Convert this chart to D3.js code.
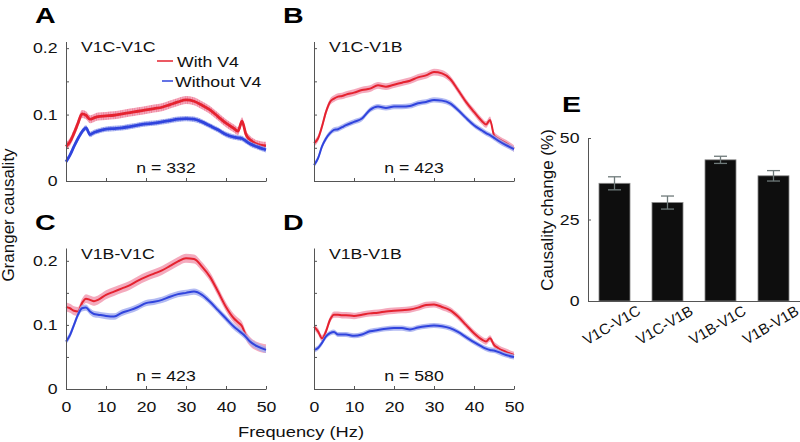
<!DOCTYPE html>
<html><head><meta charset="utf-8">
<script src="https://cdn.jsdelivr.net/npm/d3@7"></script>
<style>body{margin:0;background:#fff}svg{display:block}</style>
</head><body><svg id="c" width="800" height="442"></svg>
<script>
// ---------- data ----------
const freq = [0,1,2,3,4,5,6,7,8,10,12,14,16,18,20,22,24,26,28,30,32,34,36,38,40,42,43,44,45,46,48,50];
const seriesNames = ["With V4", "Without V4"];
const pairLabels = ["V1C-V1C", "V1C-V1B", "V1B-V1C", "V1B-V1B"];
const nLabels = ["n = 332", "n = 423", "n = 423", "n = 580"];
const panelLetters = ["A", "B", "C", "D", "E"];

const withA    = [.052,.059,.072,.087,.101,.099,.093,.095,.097,.098,.099,.101,.103,.105,.107,.109,.111,.115,.119,.122,.120,.114,.107,.097,.087,.079,.075,.090,.070,.062,.055,.053];
const withoutA = [.029,.039,.052,.064,.074,.080,.070,.073,.075,.078,.079,.080,.082,.084,.086,.087,.089,.091,.093,.094,.093,.089,.083,.077,.070,.066,.065,.064,.060,.056,.051,.047];
const withB    = [.057,.064,.082,.104,.119,.124,.127,.128,.130,.133,.137,.139,.144,.142,.145,.148,.151,.156,.159,.164,.162,.154,.137,.119,.104,.090,.085,.092,.069,.064,.057,.049];
const withoutB = [.024,.034,.052,.064,.072,.077,.078,.081,.084,.089,.094,.107,.112,.110,.112,.112,.113,.117,.119,.122,.121,.117,.107,.095,.084,.076,.072,.069,.065,.061,.054,.048];
const withC    = [.128,.126,.122,.121,.134,.141,.139,.137,.139,.147,.152,.157,.162,.169,.175,.180,.185,.192,.199,.204,.203,.191,.175,.152,.128,.110,.104,.098,.083,.074,.066,.063];
const withoutC = [.074,.084,.100,.116,.126,.127,.121,.117,.116,.114,.113,.119,.123,.128,.134,.136,.139,.144,.148,.150,.152,.147,.136,.123,.110,.097,.092,.087,.081,.074,.066,.061];
const withD    = [.097,.090,.079,.090,.108,.116,.116,.115,.115,.114,.116,.118,.119,.121,.122,.123,.124,.127,.131,.132,.128,.123,.113,.100,.087,.077,.074,.079,.069,.064,.058,.053];
const withoutD = [.061,.064,.072,.082,.087,.089,.085,.085,.085,.083,.085,.090,.092,.094,.095,.095,.093,.096,.098,.099,.098,.095,.089,.081,.073,.066,.063,.061,.060,.058,.053,.050];
const semWith    = [0.006, 0.005, 0.007, 0.005];
const semWithout = [0.004, 0.004, 0.005, 0.004];

const changePct = [36.1, 30.2, 43.3, 38.4];
const changeErr = [2.0, 2.0, 1.1, 1.6];

const yTicksGC = [0, 0.05, 0.1, 0.15, 0.2];
const yLabeledGC = [0, 0.1, 0.2];
const xTicksHz = [0, 10, 20, 30, 40, 50];
const yTicksPct = [0, 25, 50];

// ---------- styling / layout ----------
const FONT = "'Liberation Sans', Arial, Helvetica, sans-serif";
const SX = 1.22;
const RED = "#e5222f", RED_BAND = "#f29bb2";
const BLUE = "#3044dd", BLUE_BAND = "#a4aef0";
const AXIS = "#555";

const svg = d3.select("#c").attr("font-family", FONT);

// hatch patterns (panel A error bands drawn as dense vertical bars)
const defs = svg.append("defs");
[["hatchRed", RED_BAND, "#ec6f8c"], ["hatchBlue", BLUE_BAND, "#7d8be8"]].forEach(([id, bg, fg]) => {
  const p = defs.append("pattern").attr("id", id).attr("patternUnits", "userSpaceOnUse")
    .attr("width", 2.4).attr("height", 10);
  p.append("rect").attr("width", 2.4).attr("height", 10).attr("fill", bg);
  p.append("rect").attr("width", 0.9).attr("height", 10).attr("fill", fg);
});

function stext(sel, x, y, str, o = {}) {
  return sel.append("text")
    .attr("transform", `translate(${x},${y}) scale(${o.sx ?? SX},1)`)
    .attr("text-anchor", o.anchor || "start")
    .attr("font-size", o.size || 14.5)
    .attr("font-weight", o.weight || "normal")
    .attr("fill", o.fill || "#111")
    .text(str);
}

const panelData = [
  {w: withA, wo: withoutA}, {w: withB, wo: withoutB},
  {w: withC, wo: withoutC}, {w: withD, wo: withoutD}
];
const layout = [
  {x0: 66,  x1: 266, y0: 181, y1: 41.5, ymax: 0.21, leftLabels: true,  bottomLabels: false, lw: 2.8, hatch: true},
  {x0: 314, x1: 514, y0: 181, y1: 41.5, ymax: 0.21, leftLabels: false, bottomLabels: false, lw: 2,   hatch: false},
  {x0: 66,  x1: 266, y0: 389, y1: 248,  ymax: 0.22, leftLabels: true,  bottomLabels: true,  lw: 2,   hatch: false},
  {x0: 314, x1: 514, y0: 389, y1: 248,  ymax: 0.22, leftLabels: false, bottomLabels: true,  lw: 2,   hatch: false}
];

panelData.forEach((pd, i) => {
  const L = layout[i];
  const x = d3.scaleLinear().domain([0, 50]).range([L.x0, L.x1]);
  const y = d3.scaleLinear().domain([0, L.ymax]).range([L.y0, L.y1]);
  const g = svg.append("g");

  const series = [
    {vals: pd.w,  err: semWith[i],    line: RED,  band: RED_BAND,  hatch: "url(#hatchRed)"},
    {vals: pd.wo, err: semWithout[i], line: BLUE, band: BLUE_BAND, hatch: "url(#hatchBlue)"}
  ];
  series.forEach(s => {
    const pts = freq.map((f, k) => ({f, v: s.vals[k]}));
    const area = d3.area().x(d => x(d.f)).y0(d => y(d.v - s.err)).y1(d => y(d.v + s.err)).curve(d3.curveMonotoneX);
    const line = d3.line().x(d => x(d.f)).y(d => y(d.v)).curve(d3.curveMonotoneX);
    g.append("path").attr("d", area(pts)).attr("fill", L.hatch ? s.hatch : s.band).attr("opacity", 0.85);
    g.append("path").attr("d", line(pts)).attr("fill", "none").attr("stroke", s.line).attr("stroke-width", L.lw);
  });

  const ya = d3.axisLeft(y).tickValues(yTicksGC).tickSize(-3).tickSizeOuter(0).tickPadding(7)
    .tickFormat(d => (L.leftLabels && yLabeledGC.includes(d)) ? (d === 0 ? "0" : d3.format(".1f")(d)) : "");
  const yg = g.append("g").attr("transform", `translate(${L.x0},0)`).call(ya);
  const xa = d3.axisBottom(x).tickValues(xTicksHz).tickSize(-3).tickSizeOuter(0).tickPadding(13)
    .tickFormat(d => L.bottomLabels ? String(d) : "");
  const xg = g.append("g").attr("transform", `translate(0,${L.y0})`).call(xa);
  [yg, xg].forEach(a => {
    a.select(".domain").attr("stroke", AXIS);
    a.selectAll(".tick line").attr("stroke", AXIS);
    a.selectAll(".tick text").attr("font-size", 14.5).attr("fill", "#111")
      .attr("font-family", FONT).attr("transform", `scale(${SX},1)`);
  });

  stext(g, L.x0 + 15, L.y1 + 10.5, pairLabels[i]);
  stext(g, x(25), L.y0 - 8, nLabels[i], {anchor: "middle"});
  stext(svg, L.x0 - 31, L.y1 - 18.5, panelLetters[i], {size: 22, weight: "bold", sx: 1.3, fill: "#000"});

  if (i === 0) {
    const lg = [{c: RED, xs: 157, y: 61, tx: 177}, {c: BLUE, xs: 162, y: 81, tx: 175}];
    lg.forEach((d, k) => {
      g.append("line").attr("x1", d.xs).attr("x2", 173).attr("y1", d.y).attr("y2", d.y)
        .attr("stroke", d.c).attr("stroke-width", 1.5);
      stext(g, d.tx, d.y + 5.5, seriesNames[k]);
    });
  }
});

svg.append("text").attr("transform", "translate(14,215) rotate(-90)")
  .attr("text-anchor", "middle").attr("font-size", 17).attr("fill", "#111").text("Granger causality");
stext(svg, 301, 437, "Frequency (Hz)", {anchor: "middle", size: 15});

// ---------- panel E ----------
const xb = d3.scaleBand().domain(pairLabels).range([588, 800]).paddingInner(0.415).paddingOuter(0.2075);
const yb = d3.scaleLinear().domain([0, 50]).range([301, 138]);
const ge = svg.append("g");
ge.selectAll("rect.bar").data(pairLabels).join("rect").attr("class", "bar")
  .attr("x", d => xb(d)).attr("width", xb.bandwidth())
  .attr("y", (d, k) => yb(changePct[k])).attr("height", (d, k) => yb(0) - yb(changePct[k]))
  .attr("fill", "#0e0e0e").attr("stroke", "#888").attr("stroke-width", 0.8);
const EB = "#6f7a7a";
pairLabels.forEach((d, k) => {
  const cx = xb(d) + xb.bandwidth() / 2;
  const lo = yb(changePct[k] - changeErr[k]), hi = yb(changePct[k] + changeErr[k]);
  ge.append("line").attr("x1", cx).attr("x2", cx).attr("y1", lo).attr("y2", hi).attr("stroke", EB).attr("stroke-width", 1.3);
  [lo, hi].forEach(yy => ge.append("line").attr("x1", cx - 6.5).attr("x2", cx + 6.5).attr("y1", yy).attr("y2", yy)
    .attr("stroke", EB).attr("stroke-width", 1.3));
});
const yea = d3.axisLeft(yb).tickValues(yTicksPct).tickSize(-3).tickSizeOuter(0).tickPadding(7);
const yeg = ge.append("g").attr("transform", "translate(588,0)").call(yea);
const xea = d3.axisBottom(xb).tickSize(0).tickSizeOuter(0).tickPadding(0);
const xeg = ge.append("g").attr("transform", "translate(0,301)").call(xea);
[yeg, xeg].forEach(a => {
  a.select(".domain").attr("stroke", AXIS);
  a.selectAll(".tick line").attr("stroke", AXIS);
  a.selectAll(".tick text").attr("font-size", 14.5).attr("fill", "#111").attr("font-family", FONT);
});
yeg.selectAll(".tick text").attr("transform", `scale(${SX},1)`);
xeg.selectAll(".tick text").attr("font-size", 15).attr("x", 0).attr("y", 0).attr("dy", "0.35em")
  .attr("text-anchor", "middle").attr("transform", "translate(-3,24) rotate(-30)");
stext(svg, 562, 112, panelLetters[4], {size: 22, weight: "bold", sx: 1.3, fill: "#000"});
svg.append("text").attr("transform", "translate(553,210) rotate(-90)")
  .attr("text-anchor", "middle").attr("font-size", 17).attr("fill", "#111").text("Causality change (%)");
</script></body></html>
